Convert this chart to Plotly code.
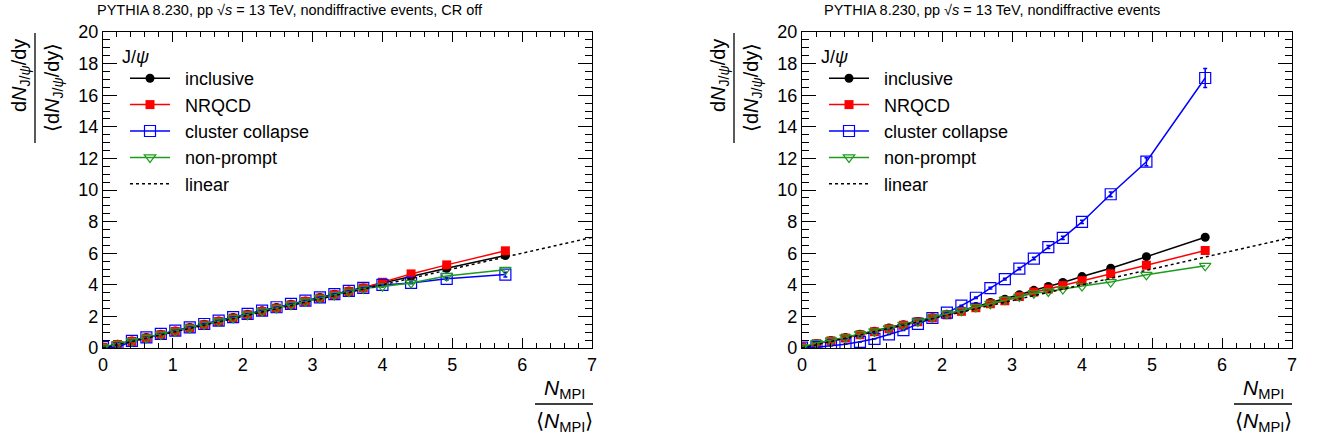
import plotly.graph_objects as go

W, H = 1319, 441

# ---------------- data ----------------
nmpi = [0.0, 0.207, 0.414, 0.621, 0.828, 1.035, 1.242, 1.449, 1.656, 1.863, 2.070, 2.277,
        2.484, 2.691, 2.898, 3.105, 3.312, 3.519, 3.726, 4.00, 4.41, 4.92, 5.76]

# left panel: CR off
incl_off = [0.05, 0.24, 0.45, 0.66, 0.87, 1.08, 1.29, 1.50, 1.71, 1.93, 2.14, 2.35,
            2.56, 2.77, 2.98, 3.19, 3.40, 3.60, 3.80, 4.10, 4.52, 5.05, 5.85]
nrqcd_off = [0.03, 0.22, 0.42, 0.63, 0.84, 1.05, 1.26, 1.47, 1.68, 1.89, 2.10, 2.31,
             2.52, 2.73, 2.95, 3.16, 3.37, 3.58, 3.80, 4.16, 4.69, 5.26, 6.15]
clus_off = [0.05, 0.02, 0.45, 0.67, 0.89, 1.10, 1.31, 1.52, 1.73, 1.95, 2.16, 2.37,
            2.58, 2.79, 3.00, 3.21, 3.41, 3.61, 3.80, 3.99, 4.12, 4.38, 4.65]
clus_off_err = [0.01, 0.01, 0.01, 0.01, 0.01, 0.01, 0.01, 0.01, 0.01, 0.01, 0.01, 0.01,
                0.01, 0.01, 0.01, 0.02, 0.02, 0.02, 0.03, 0.03, 0.05, 0.08, 0.15]
nonp_off = [0.05, 0.25, 0.44, 0.64, 0.85, 1.06, 1.27, 1.48, 1.69, 1.90, 2.11, 2.32,
            2.53, 2.74, 2.95, 3.16, 3.36, 3.56, 3.76, 3.90, 4.12, 4.55, 4.95]

# right panel: CR on
incl_on = [0.05, 0.28, 0.47, 0.66, 0.87, 1.06, 1.26, 1.47, 1.68, 1.92, 2.14, 2.38,
           2.62, 2.88, 3.09, 3.37, 3.65, 3.89, 4.15, 4.52, 5.05, 5.78, 7.01]
nrqcd_on = [0.03, 0.27, 0.45, 0.63, 0.84, 1.03, 1.22, 1.44, 1.66, 1.90, 2.10, 2.32,
            2.55, 2.80, 2.99, 3.26, 3.54, 3.73, 3.95, 4.26, 4.70, 5.24, 6.17]
clus_on = [0.03, 0.05, 0.15, 0.24, 0.39, 0.58, 0.86, 1.13, 1.53, 1.90, 2.24, 2.68,
           3.18, 3.79, 4.36, 5.03, 5.66, 6.39, 6.97, 7.98, 9.73, 11.79, 17.09]
clus_on_err = [0.01, 0.01, 0.01, 0.01, 0.01, 0.01, 0.01, 0.02, 0.02, 0.02, 0.03, 0.03,
               0.04, 0.05, 0.06, 0.07, 0.08, 0.09, 0.10, 0.10, 0.15, 0.25, 0.60]
nonp_on = [0.05, 0.32, 0.48, 0.67, 0.88, 1.05, 1.24, 1.47, 1.68, 1.93, 2.17, 2.36,
           2.59, 2.80, 3.05, 3.26, 3.47, 3.58, 3.73, 3.92, 4.17, 4.63, 5.20]

linear_x = [0, 7]
linear_y = [0, 7]

legend_labels = ["inclusive", "NRQCD", "cluster collapse", "non-prompt", "linear"]
titles = ["PYTHIA 8.230, pp √<i>s</i> = 13 TeV, nondiffractive events, CR off",
          "PYTHIA 8.230, pp √<i>s</i> = 13 TeV, nondiffractive events"]

FONT = "Liberation Sans, Arial, Helvetica, sans-serif"
GREEN = "#1f9a1f"
PAD = "\u00a0\u00a0"

# ---------------- figure ----------------
fig = go.Figure()

def add_panel(xa, ya, leg, inc, nrq, clu, cluerr, nonp):
    fig.add_trace(go.Scatter(x=nmpi, y=inc, mode="lines+markers", name=PAD + legend_labels[0],
                             line=dict(color="black", width=1.5),
                             marker=dict(symbol="circle", size=9, color="black"),
                             xaxis=xa, yaxis=ya, legend=leg))
    fig.add_trace(go.Scatter(x=nmpi, y=nrq, mode="lines+markers", name=PAD + legend_labels[1],
                             line=dict(color="#ff0000", width=1.5),
                             marker=dict(symbol="square", size=9, color="#ff0000"),
                             xaxis=xa, yaxis=ya, legend=leg))
    fig.add_trace(go.Scatter(x=nmpi, y=clu, mode="lines+markers", name=PAD + legend_labels[2],
                             line=dict(color="#0000ff", width=1.5),
                             marker=dict(symbol="square-open", size=11, color="#0000ff",
                                         line=dict(width=1.2)),
                             error_y=dict(type="data", array=cluerr, color="#0000ff",
                                          thickness=1.5, width=2),
                             xaxis=xa, yaxis=ya, legend=leg))
    fig.add_trace(go.Scatter(x=nmpi, y=nonp, mode="lines+markers", name=PAD + legend_labels[3],
                             line=dict(color=GREEN, width=1.5),
                             marker=dict(symbol="triangle-down-open", size=10, color=GREEN,
                                         line=dict(width=1.2)),
                             xaxis=xa, yaxis=ya, legend=leg))
    fig.add_trace(go.Scatter(x=linear_x, y=linear_y, mode="lines", name=PAD + legend_labels[4],
                             line=dict(color="black", width=1.5, dash="dot"),
                             xaxis=xa, yaxis=ya, legend=leg))

add_panel("x", "y", "legend", incl_off, nrqcd_off, clus_off, clus_off_err, nonp_off)
add_panel("x2", "y2", "legend2", incl_on, nrqcd_on, clus_on, clus_on_err, nonp_on)

# pixel geometry (in screenshot pixels)
L1, R1 = 103, 592
L2, R2 = 802, 1292
TOP, BOT = 32, 348

def px(x):
    return x / W

def py(y):
    return 1 - y / H

axis_common = dict(
    showline=True, linecolor="black", linewidth=1.3, mirror="allticks",
    ticks="inside", ticklen=10, tickwidth=1.3, tickcolor="black",
    showgrid=False, zeroline=False, automargin=False,
    tickfont=dict(family=FONT, size=18, color="black"),
)

xaxis_common = dict(axis_common, range=[0, 7], dtick=1, tick0=0,
                    minor=dict(dtick=0.2, ticklen=5, tickwidth=1.2, tickcolor="black",
                               ticks="inside", showgrid=False))
yaxis_common = dict(axis_common, range=[0, 20], dtick=2, tick0=0, ticklen=14,
                    minor=dict(dtick=0.5, ticklen=7, tickwidth=1.2, tickcolor="black",
                               ticks="inside", showgrid=False))

legend_common = dict(xanchor="left", yanchor="top",
                     bgcolor="rgba(0,0,0,0)", font=dict(family=FONT, size=18),
                     tracegroupgap=0, itemwidth=40)

fig.update_layout(
    width=W, height=H,
    margin=dict(l=0, r=0, t=0, b=0, autoexpand=False),
    paper_bgcolor="white", plot_bgcolor="white",
    font=dict(family=FONT, color="black"),
    xaxis=dict(xaxis_common, domain=[px(L1), px(R1)], anchor="y"),
    yaxis=dict(yaxis_common, domain=[py(BOT), py(TOP)], anchor="x"),
    xaxis2=dict(xaxis_common, domain=[px(L2), px(R2)], anchor="y2"),
    yaxis2=dict(yaxis_common, domain=[py(BOT), py(TOP)], anchor="x2"),
    legend=dict(legend_common, x=px(125), y=py(60)),
    legend2=dict(legend_common, x=px(125 + 699), y=py(60)),
)

annotations = []
shapes = []
title_left = [95, 822]
for i, off in enumerate([0, 699]):
    # top title
    annotations.append(dict(text=titles[i], x=px(title_left[i]), y=py(10),
                            xref="paper", yref="paper", showarrow=False,
                            xanchor="left", yanchor="middle",
                            font=dict(family=FONT, size=14.5, color="black")))
    # legend header
    annotations.append(dict(text="J/<i>ψ</i>", x=px(120 + off), y=py(57),
                            xref="paper", yref="paper", showarrow=False,
                            xanchor="left", yanchor="middle",
                            font=dict(family=FONT, size=18, color="black")))
    # y-axis title fraction
    annotations.append(dict(text="d<i>N</i><sub>J/<i>ψ</i></sub>/dy", textangle=-90,
                            x=px(20 + off), y=py(76), xref="paper", yref="paper",
                            showarrow=False, xanchor="center", yanchor="middle",
                            font=dict(family=FONT, size=20, color="black")))
    annotations.append(dict(text="⟨d<i>N</i><sub>J/<i>ψ</i></sub>/dy⟩", textangle=-90,
                            x=px(53 + off), y=py(88), xref="paper", yref="paper",
                            showarrow=False, xanchor="center", yanchor="middle",
                            font=dict(family=FONT, size=20, color="black")))
    shapes.append(dict(type="line", xref="paper", yref="paper",
                       x0=px(35 + off), x1=px(35 + off), y0=py(33), y1=py(143),
                       line=dict(color="black", width=1.3)))
    # x-axis title fraction
    annotations.append(dict(text="<i>N</i><sub>MPI</sub>",
                            x=px(564 + off), y=py(389), xref="paper", yref="paper",
                            showarrow=False, xanchor="center", yanchor="middle",
                            font=dict(family=FONT, size=21, color="black")))
    annotations.append(dict(text="⟨<i>N</i><sub>MPI</sub>⟩",
                            x=px(564 + off), y=py(422), xref="paper", yref="paper",
                            showarrow=False, xanchor="center", yanchor="middle",
                            font=dict(family=FONT, size=21, color="black")))
    shapes.append(dict(type="line", xref="paper", yref="paper",
                       x0=px(535 + off), x1=px(593 + off), y0=py(404), y1=py(404),
                       line=dict(color="black", width=1.3)))

fig.update_layout(annotations=annotations, shapes=shapes)

fig.write_html("out.html",
               config={"displayModeBar": False},
               post_script="document.body.style.margin='0';document.body.style.overflow='hidden';")
